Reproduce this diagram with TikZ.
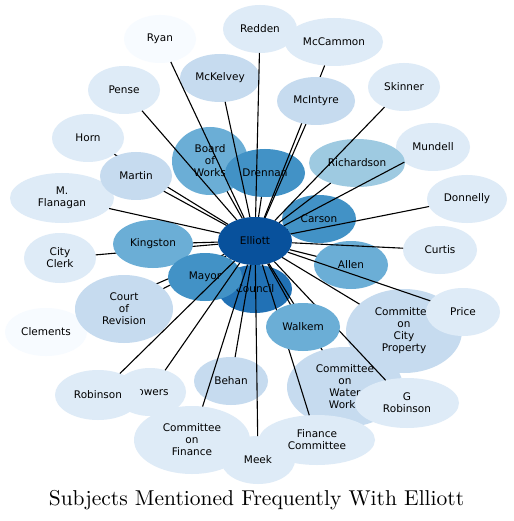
\documentclass[tikz,border=0pt]{standalone}
\usepackage{fontspec}
\usetikzlibrary{shapes.geometric}
\newfontfamily\lblfont{DejaVu Sans}
\newfontfamily\titlefont{lmroman10-regular}[Extension=.otf]
\definecolor{ca}{HTML}{08519C}
\definecolor{cb}{HTML}{2171B5}
\definecolor{cc}{HTML}{4292C6}
\definecolor{cd}{HTML}{6BAED6}
\definecolor{ce}{HTML}{9ECAE1}
\definecolor{cf}{HTML}{C6DBEF}
\definecolor{cg}{HTML}{DEEBF7}
\definecolor{ch}{HTML}{F7FBFF}
\tikzset{
  lbl/.style={font=\lblfont\fontsize{10.5}{12}\selectfont, align=center, inner sep=0pt, text=black},
  geo/.style={ellipse, inner sep=0pt, outer sep=0pt, draw=none},
  link/.style={draw=black, line width=1.1pt},
}
\newcommand\defN[7]{%
  \path (#2,#3) node[geo, minimum width=#4*2pt, minimum height=#5*2pt] (#1) {};%
  \expandafter\gdef\csname paintN#1\endcsname{%
    \fill[#6] (#2,#3) ellipse[x radius=#4pt, y radius=#5pt];%
    \node[lbl] (#1-t) at (#2,#3) {#7};}%
}
\newcommand\paintN[1]{\csname paintN#1\endcsname}
\newcommand\linkN[1]{\draw[link] (E) -- (#1);}
\begin{document}
\begin{tikzpicture}[x=1pt,y=-1pt]
\useasboundingbox (0,0) rectangle (513,521);
\fill[white] (0,0) rectangle (513,521);
% geometry
\defN{E}{255}{241}{37}{24}{ca}{Elliott}
\defN{Ryan}{160}{39}{36}{24}{ch}{Ryan}
\defN{Redden}{260}{29}{37}{24}{cg}{Redden}
\defN{McCammon}{334}{42}{49}{24}{cg}{McCammon}
\defN{McKelvey}{220}{78}{40}{24}{cf}{McKelvey}
\defN{Pense}{124}{90}{36}{24}{cg}{Pense}
\defN{Skinner}{404}{87}{36}{24}{cg}{Skinner}
\defN{McIntyre}{316}{101}{39}{24}{cf}{McIntyre}
\defN{Horn}{88}{138}{36}{24}{cg}{Horn}
\defN{Mundell}{433}{147}{37}{24}{cg}{Mundell}
\defN{BoW}{210}{161}{38}{34}{cd}{Board\\of\\Works}
\defN{Drennan}{265}{173}{40}{24}{cc}{Drennan}
\defN{Martin}{136}{176}{36}{24}{cf}{Martin}
\defN{Richardson}{357}{163}{48}{24}{ce}{Richardson}
\defN{Flanagan}{62}{198}{52}{25}{cg}{M.\\Flanagan}
\defN{Donnelly}{467}{199}{40}{24}{cg}{Donnelly}
\defN{Carson}{319}{219}{37}{24}{cc}{Carson}
\defN{Kingston}{153}{244}{40}{24}{cd}{Kingston}
\defN{CityClerk}{60}{258}{36}{25}{cg}{City\\Clerk}
\defN{Curtis}{440}{250}{37}{24}{cg}{Curtis}
\defN{Allen}{351}{265}{37}{24}{cd}{Allen}
\defN{Mayor}{205}{277}{37}{24}{cc}{Mayor}
\defN{Council}{255}{289}{37}{24}{cb}{Council}
\defN{CoR}{124}{309}{49}{34}{cf}{Court\\of\\Revision}
\defN{Clements}{46}{332}{41}{24}{ch}{Clements}
\defN{Walkem}{303}{327}{37}{24}{cd}{Walkem}
\defN{CCP}{404}{331}{58}{42}{cf}{Committee\\on\\City\\Property}
\defN{Price}{463}{312}{37}{24}{cg}{Price}
\defN{CoWW}{345}{387}{58}{40}{cf}{Committee\\on\\Water\\Works}
\defN{GRobinson}{407}{403}{52}{25}{cg}{G\\Robinson}
\defN{FinCom}{317}{440}{58}{25}{cg}{Finance\\Committee}
\defN{Robinson}{98}{395}{43}{25}{cg}{Robinson}
\defN{Powers}{150}{392}{36}{24}{cg}{Powers}
\defN{Behan}{231}{381}{37}{24}{cf}{Behan}
\defN{CoF}{192}{440}{58}{34}{cg}{Committee\\on\\Finance}
\defN{Meek}{258}{460}{37}{24}{cg}{Meek}
% back layer
\paintN{Ryan}\paintN{Redden}\paintN{McCammon}\paintN{McKelvey}\paintN{Pense}
\paintN{Skinner}\paintN{Horn}\paintN{Mundell}\paintN{Flanagan}\paintN{Donnelly}
\paintN{CityClerk}\paintN{Curtis}\paintN{Clements}\paintN{Powers}\paintN{Robinson}
\paintN{CCP}\paintN{Price}\paintN{CoWW}\paintN{GRobinson}\paintN{CoF}\paintN{Meek}
\paintN{FinCom}\paintN{Behan}\paintN{BoW}\paintN{Drennan}\paintN{Richardson}
\paintN{Carson}\paintN{Allen}\paintN{Council}
% hidden links
\linkN{Horn}\linkN{CityClerk}\linkN{CoR}\linkN{Clements}\linkN{McCammon}
\linkN{GRobinson}\linkN{CoWW}\linkN{FinCom}
% middle layer
\paintN{Martin}\paintN{Kingston}\paintN{McIntyre}\paintN{Walkem}\paintN{CoR}\paintN{Mayor}
% visible links
\linkN{Ryan}\linkN{Redden}\linkN{McKelvey}\linkN{Pense}\linkN{Skinner}\linkN{McIntyre}
\linkN{Mundell}\linkN{BoW}\linkN{Drennan}\linkN{Martin}\linkN{Richardson}\linkN{Flanagan}
\linkN{Donnelly}\linkN{Carson}\linkN{Kingston}\linkN{Curtis}\linkN{Allen}\linkN{Mayor}
\linkN{Council}\linkN{Walkem}\linkN{CCP}\linkN{Price}\linkN{Robinson}\linkN{Powers}
\linkN{Behan}\linkN{CoF}\linkN{Meek}
% front
\paintN{E}
\node[font=\titlefont\fontsize{21.5}{24}\selectfont, inner sep=0pt, anchor=base] (title) at (256.5,505) {Subjects Mentioned Frequently With Elliott};
\end{tikzpicture}
\end{document}
